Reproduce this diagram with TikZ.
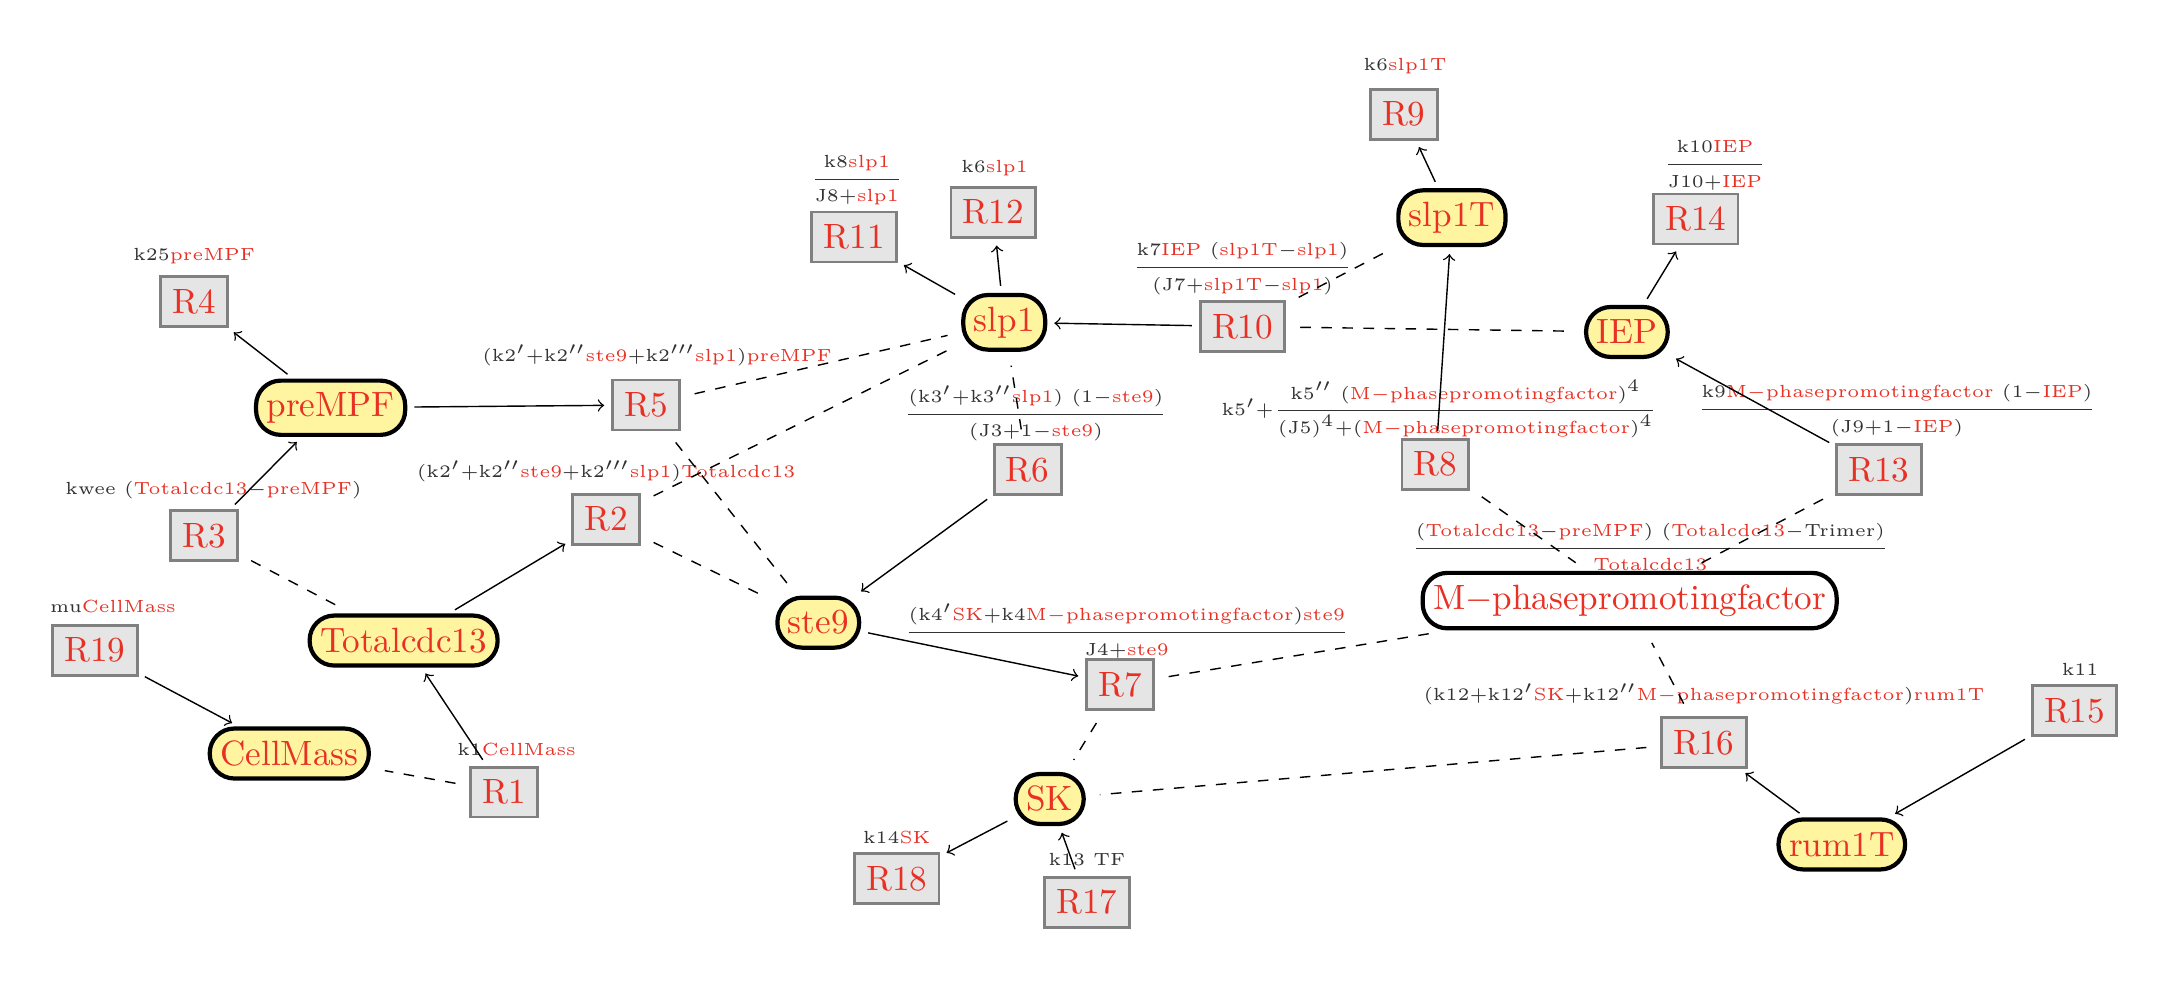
\documentclass[tikz,border=0pt]{standalone}
\usepackage{amsmath,amssymb}
\usepackage{xcolor}
\usetikzlibrary{positioning}
\definecolor{spred}{RGB}{232,48,36}
\definecolor{spfill}{RGB}{255,245,160}
\definecolor{kgray}{RGB}{50,50,50}
\newcommand{\spc}[1]{\textcolor{spred}{#1}}
\newcommand{\mpf}{\spc{M$-$phasepromotingfactor}}

\begin{document}
\begin{tikzpicture}[x=0.013776cm, y=-0.013776cm,
		specnode/.style={rectangle, rounded corners=7pt, draw=black, very thick, fill=spfill, text=spred, minimum height=0.5cm, inner xsep=3pt},
		reactnode/.style={rectangle, draw=black!50, fill=black!10, thick, text=spred, minimum width=0.62cm, minimum height=0.5cm},
		ratelabel/.style={font=\tiny, text=kgray},
		react/.style={->, shorten >=2pt, shorten <=2pt},
		modif/.style={dashed, thin, shorten >=4pt, shorten <=4pt},
	]
		\useasboundingbox (0,0) rectangle (1568,717);

		% species
		\node[specnode] (premPF)	at (240,296)	{preMPF};
		\node[specnode] (totalcdc)	at (293,465)	{Totalcdc13};
		\node[specnode] (cellmass)	at (210,547)	{CellMass};
		\node[specnode] (ste)		at (594,452)	{ste9};
		\node[specnode] (slp)		at (729,234)	{slp1};
		\node[specnode] (slpT)		at (1054,158)	{slp1T};
		\node[specnode] (iep)		at (1181,241)	{IEP};
		\node[specnode, fill=white] (mpf) at (1183,436) {M$-$phasepromotingfactor};
		\node[specnode] (sk)		at (762,580)	{SK};
		\node[specnode] (rum)		at (1337,613)	{rum1T};

		% reactions
		\node[reactnode] (r1)	at (366,575)	{R1};
		\node[reactnode] (r2)	at (440,377)	{R2};
		\node[reactnode] (r3)	at (148,389)	{R3};
		\node[reactnode] (r4)	at (141,219)	{R4};
		\node[reactnode] (r5)	at (469,294)	{R5};
		\node[reactnode] (r6)	at (746,341)	{R6};
		\node[reactnode] (r7)	at (813,497)	{R7};
		\node[reactnode] (r8)	at (1042,337)	{R8};
		\node[reactnode] (r9)	at (1019,83)	{R9};
		\node[reactnode] (r10)	at (902,237)	{R10};
		\node[reactnode] (r11)	at (620,172)	{R11};
		\node[reactnode] (r12)	at (721,154)	{R12};
		\node[reactnode] (r13)	at (1364,341)	{R13};
		\node[reactnode] (r14)	at (1231,159)	{R14};
		\node[reactnode] (r15)	at (1506,516)	{R15};
		\node[reactnode] (r16)	at (1237,539)	{R16};
		\node[reactnode] (r17)	at (789,655)	{R17};
		\node[reactnode] (r18)	at (651,638)	{R18};
		\node[reactnode] (r19)	at (69,472)		{R19};

		% rate laws
		\node[ratelabel] (l1)	at (375,544)	{k1\spc{CellMass}};
		\node[ratelabel] (l2)	at (440,342)	{(k2$'$+k2$''$\spc{ste9}+k2$'''$\spc{slp1})\spc{Totalcdc13}};
		\node[ratelabel] (l3)	at (155,356)	{kwee (\spc{Totalcdc13}$-$\spc{preMPF})};
		\node[ratelabel] (l4)	at (141,186)	{k25\spc{preMPF}};
		\node[ratelabel] (l5)	at (477,258)	{(k2$'$+k2$''$\spc{ste9}+k2$'''$\spc{slp1})\spc{preMPF}};
		\node[ratelabel] (l6)	at (752,300)	{$\dfrac{\text{(k3$'$+k3$''$\spc{slp1}) (1$-$\spc{ste9})}}{\text{(J3+1$-$\spc{ste9})}}$};
		\node[ratelabel] (l7)	at (818,458)	{$\dfrac{\text{(k4$'$\spc{SK}+k4\mpf)\spc{ste9}}}{\text{J4+\spc{ste9}}}$};
		\node[ratelabel] (l8)	at (1045,297)	{k5$'$+$\dfrac{\text{k5$''$ (\mpf)$^4$}}{\text{(J5)$^4$+(\mpf)$^4$}}$};
		\node[ratelabel] (l9)	at (1020,48)	{k6\spc{slp1T}};
		\node[ratelabel] (l10)	at (902,195)	{$\dfrac{\text{k7\spc{IEP} (\spc{slp1T}$-$\spc{slp1})}}{\text{(J7+\spc{slp1T}$-$\spc{slp1})}}$};
		\node[ratelabel] (l11)	at (622,131)	{$\dfrac{\text{k8\spc{slp1}}}{\text{J8+\spc{slp1}}}$};
		\node[ratelabel] (l12)	at (722,122)	{k6\spc{slp1}};
		\node[ratelabel] (l13)	at (1377,298)	{$\dfrac{\text{k9\mpf{} (1$-$\spc{IEP})}}{\text{(J9+1$-$\spc{IEP})}}$};
		\node[ratelabel] (l14)	at (1245,120)	{$\dfrac{\text{k10\spc{IEP}}}{\text{J10+\spc{IEP}}}$};
		\node[ratelabel] (l15)	at (1510,486)	{k11};
		\node[ratelabel] (l16)	at (1237,504)	{(k12+k12$'$\spc{SK}+k12$''$\mpf)\spc{rum1T}};
		\node[ratelabel] (l17)	at (789,624)	{k13 TF};
		\node[ratelabel] (l18)	at (651,608)	{k14\spc{SK}};
		\node[ratelabel] (l19)	at (82,440)		{mu\spc{CellMass}};
		\node[ratelabel] (lmpf)	at (1198,397)	{$\dfrac{\text{(\spc{Totalcdc13}$-$\spc{preMPF}) (\spc{Totalcdc13}$-$Trimer)}}{\text{\spc{Totalcdc13}}}$};

		% lines
		\draw[react] (premPF) -- (r4);
		\draw[react] (premPF) -- (r5);
		\draw[react] (r3) -- (premPF);
		\draw[react] (totalcdc) -- (r2);
		\draw[react] (r19) -- (cellmass);
		\draw[react] (r1) -- (totalcdc);
		\draw[react] (slp) -- (r11);
		\draw[react] (slp) -- (r12);
		\draw[react] (r10) -- (slp);
		\draw[react] (r6) -- (ste);
		\draw[react] (slpT) -- (r9);
		\draw[react] (r8) -- (slpT);
		\draw[react] (iep) -- (r14);
		\draw[react] (r13) -- (iep);
		\draw[react] (ste) -- (r7);
		\draw[react] (sk) -- (r18);
		\draw[react] (r17) -- (sk);
		\draw[react] (rum) -- (r16);
		\draw[react] (r15) -- (rum);

		\draw[modif] (r5) -- (slp);
		\draw[modif] (r5) -- (ste);
		\draw[modif] (r2) -- (slp);
		\draw[modif] (r2) -- (ste);
		\draw[modif] (r3) -- (totalcdc);
		\draw[modif] (r1) -- (cellmass);
		\draw[modif] (r6) -- (slp);
		\draw[modif] (r10) -- (slpT);
		\draw[modif] (r10) -- (iep);
		\draw[modif] (r8) -- (mpf);
		\draw[modif] (r13) -- (mpf);
		\draw[modif] (r7) -- (mpf);
		\draw[modif] (r7) -- (sk);
		\draw[modif] (r16) -- (sk);
		\draw[modif] (r16) -- (mpf);
	\end{tikzpicture}
\end{document}
